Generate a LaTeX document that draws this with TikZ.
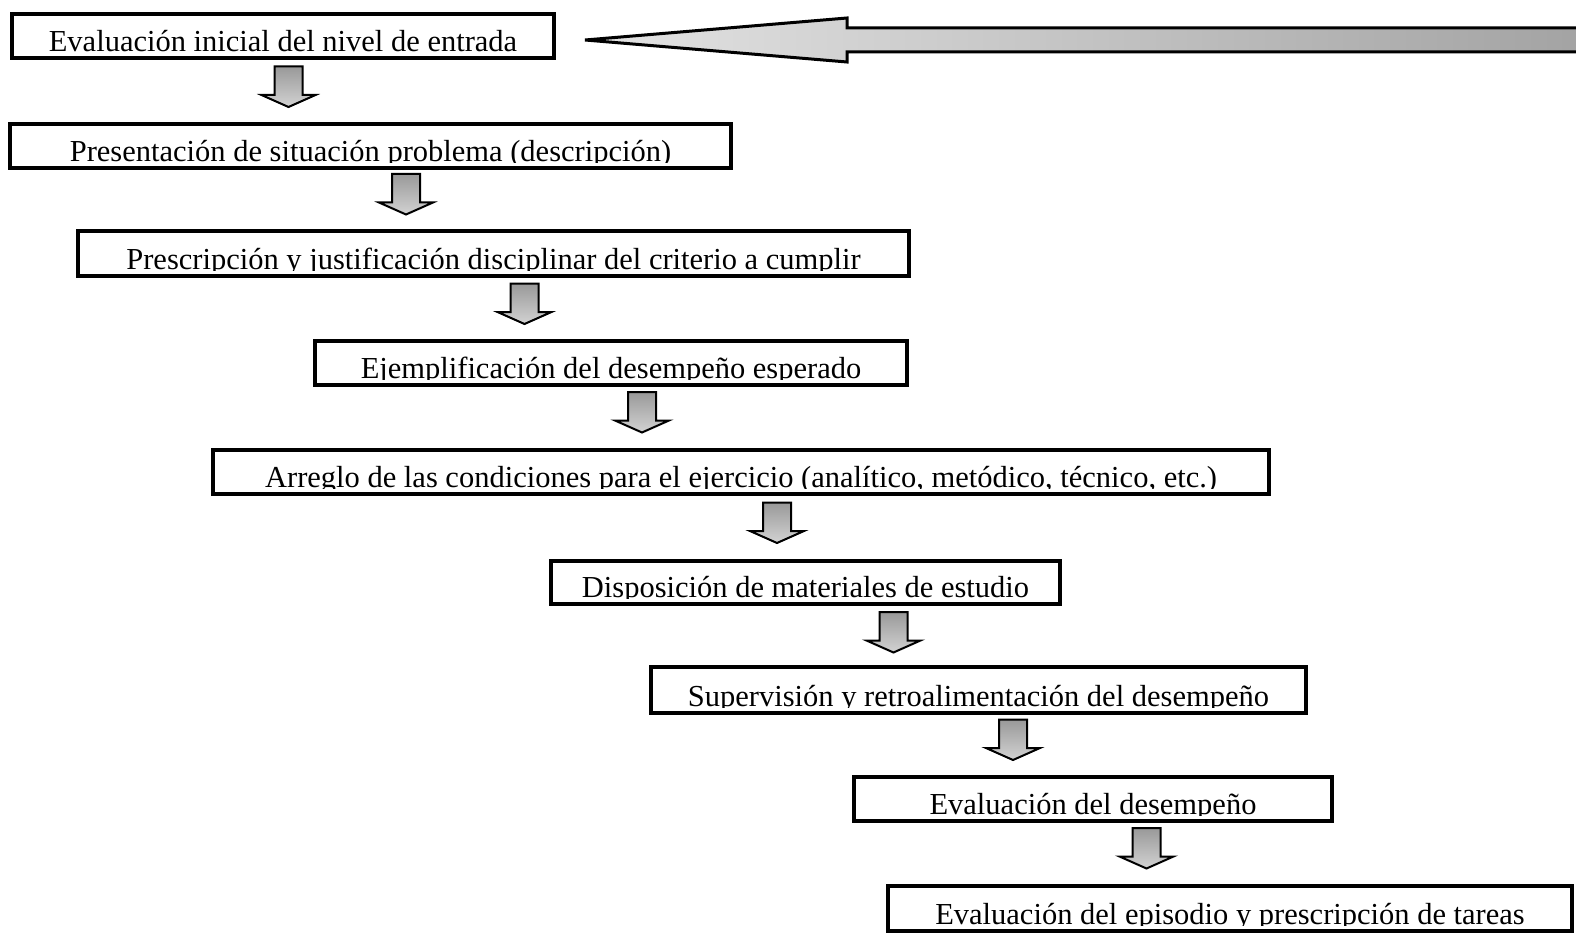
\documentclass[tikz,border=0pt]{standalone}
\usepackage{fontspec}
\setmainfont{Liberation Serif}

\tikzset{
  stage/.style={draw=black, line width=3.8pt, fill=white, inner sep=0pt},
  stage text/.style={anchor=base, inner sep=0pt, font=\fontsize{30.5}{36}\selectfont},
  flow arrow/.style={draw=black, line width=2pt, line join=miter,
    top color=gray!80, middle color=gray!55, bottom color=gray!35},
  return arrow/.style={draw=black, line width=3pt, line join=miter,
    left color=gray!22, right color=gray!72},
}

% one step of the sequence: name, centre, width, height, label
% the label is cut just under its baseline, as in the printed chart
\newcommand\stepstage[6]{%
  \node[stage, minimum width=#3pt, minimum height=#4pt] (#1) at (#2) {};
  \begin{scope}
    \clip ([xshift=2pt,yshift=-2pt]#1.north west) rectangle ([xshift=-2pt,yshift=7.2pt]#1.south east);
    \node[stage text] (#1-label) at ([yshift=8.25pt]#1.south) {#5#6};
  \end{scope}}

% small block arrow hanging below a named coordinate
\newcommand\droparrow[1]{%
  \path[flow arrow] (#1) +(-14,0) -- +(14,0) -- +(14,28.5) -- +(27,28.5)
    -- +(0,40.5) -- +(-27,28.5) -- +(-14,28.5) -- cycle;}

\begin{document}
\begin{tikzpicture}[x=1pt, y=-1pt]
  \useasboundingbox (0,0) rectangle (1576,933);

  \stepstage{s1}{283,36}{542.5}{44.5}{Evaluación inicial del nivel de entrada}{}
  \stepstage{s2}{370.5,146}{721.5}{44.5}{Presentación de situación problema (descripción)}{}
  \stepstage{s3}{493.5,253.5}{831.5}{45.5}{Prescripción y justificación disciplinar del criterio a cumplir}{}
  \stepstage{s4}{611,363}{592.5}{44.5}{Ejemplificación del desempeño esperado}{}
  \stepstage{s5}{741,472}{1056.5}{44.5}{Arreglo de las condiciones para el ejercicio (analítico, metódico, técnico, etc.)}{}
  \stepstage{s6}{805.5,582.5}{509.5}{43.5}{Disposición de materiales de estudio}{}
  \stepstage{s7}{978.5,690}{655.5}{46.5}{Supervisión y retroalimentación del desempeño}{}
  \stepstage{s8}{1093,799}{478.5}{44.5}{Evaluación del desempeño}{}
  \stepstage{s9}{1230,908.5}{684.5}{45.5}{Evaluación del episodio y prescripción de tareas}{}

  % arrows between consecutive steps
  \coordinate (d1) at (288.5,66.5);
  \coordinate (d2) at (406,174);
  \coordinate (d3) at (524.5,283.5);
  \coordinate (d4) at (642,392);
  \coordinate (d5) at (777,502.5);
  \coordinate (d6) at (893.5,612);
  \coordinate (d7) at (1013,719.5);
  \coordinate (d8) at (1146.5,828);
  \foreach \d in {d1,d2,d3,d4,d5,d6,d7,d8} {\droparrow{\d}}

  % long arrow returning to the first step
  \coordinate (back) at (585,40);
  \path[return arrow] (back) -- (847,18) -- (847,28) -- (1582,28)
    -- (1582,52) -- (847,52) -- (847,62) -- cycle;
\end{tikzpicture}
\end{document}
